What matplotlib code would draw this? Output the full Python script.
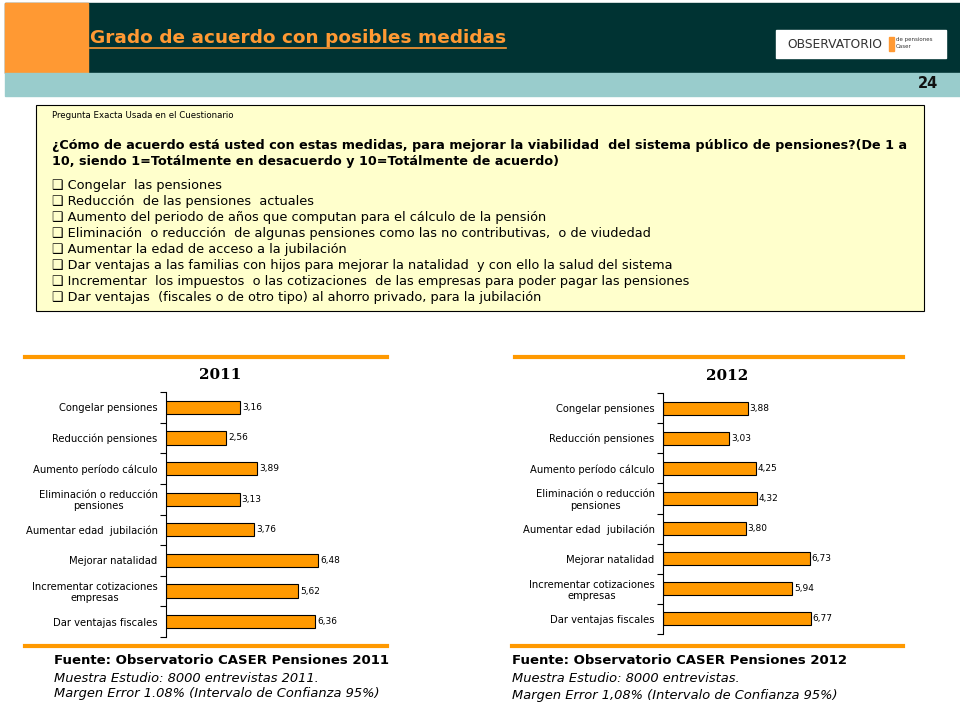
import numpy as np
import matplotlib.pyplot as plt
from matplotlib.patches import Rectangle

categorias = ["Congelar pensiones", "Reducción pensiones", "Aumento período cálculo",
              "Eliminación o reducción\npensiones", "Aumentar edad  jubilación",
              "Mejorar natalidad", "Incrementar cotizaciones\nempresas", "Dar ventajas fiscales"]
valores_2011 = [3.16, 2.56, 3.89, 3.13, 3.76, 6.48, 5.62, 6.36]
valores_2012 = [3.88, 3.03, 4.25, 4.32, 3.80, 6.73, 5.94, 6.77]

medidas = ["Congelar  las pensiones",
           "Reducción  de las pensiones  actuales",
           "Aumento del periodo de años que computan para el cálculo de la pensión",
           "Eliminación  o reducción  de algunas pensiones como las no contributivas,  o de viudedad",
           "Aumentar la edad de acceso a la jubilación",
           "Dar ventajas a las familias con hijos para mejorar la natalidad  y con ello la salud del sistema",
           "Incrementar  los impuestos  o las cotizaciones  de las empresas para poder pagar las pensiones",
           "Dar ventajas  (fiscales o de otro tipo) al ahorro privado, para la jubilación"]

W, H = 960, 720
fig = plt.figure(figsize=(9.6, 7.2), dpi=100)
bg = fig.add_axes([0, 0, 1, 1])
bg.set_xlim(0, W)
bg.set_ylim(H, 0)
bg.axis('off')

naranja = '#FF9900'

# cabecera
bg.add_patch(Rectangle((5, 3), 955, 70, color='#003333'))
bg.add_patch(Rectangle((5, 3), 83, 70, color='#FF9933'))
bg.add_patch(Rectangle((5, 73), 955, 23, color='#99CCCC'))
bg.text(90, 38, "Grado de acuerdo con posibles medidas", color='#FF9933', fontsize=13.3,
        fontweight='bold', va='center', ha='left')
bg.plot([90, 506], [48, 48], color='#FF9933', lw=1.2)
bg.add_patch(Rectangle((776, 30), 170, 28, color='white'))
bg.text(787, 44, "OBSERVATORIO", color='#333333', fontsize=8.8, va='center', ha='left')
bg.add_patch(Rectangle((889, 37), 5, 14, color='#FF9933'))
bg.text(896, 40, "de pensiones", color='#333333', fontsize=4, va='center', ha='left')
bg.text(896, 47, "Caser", color='#333333', fontsize=4, va='center', ha='left')
bg.text(938, 84, "24", color='#111111', fontsize=10.5, fontweight='bold', va='center', ha='right')

# caja de la pregunta
bg.add_patch(Rectangle((36, 105), 888, 206, facecolor='#FFFFCC', edgecolor='black', lw=0.8))
bg.text(52, 115, "Pregunta Exacta Usada en el Cuestionario", fontsize=6.2, va='center')
bg.text(52, 145, "¿Cómo de acuerdo está usted con estas medidas, para mejorar la viabilidad  del sistema público de pensiones?(De 1 a",
        fontsize=9.2, fontweight='bold', va='center')
bg.text(52, 161, "10, siendo 1=Totálmente en desacuerdo y 10=Totálmente de acuerdo)",
        fontsize=9.2, fontweight='bold', va='center')
for i, m in enumerate(medidas):
    bg.text(52, 186 + i * 16, "\u2751 " + m, fontsize=9.3, va='center')

# lineas naranjas
bg.plot([25, 387], [357, 357], color=naranja, lw=3)
bg.plot([25, 387], [646, 646], color=naranja, lw=3)
bg.plot([515, 903], [357, 357], color=naranja, lw=3)
bg.plot([512, 903], [646, 646], color=naranja, lw=3)
bg.text(220, 375, "2011", fontsize=11, fontweight='bold', family='DejaVu Serif', ha='center', va='center')
bg.text(727, 376, "2012", fontsize=11, fontweight='bold', family='DejaVu Serif', ha='center', va='center')

# fuentes
bg.text(54, 660, "Fuente: Observatorio CASER Pensiones 2011", fontsize=9.5, fontweight='bold', va='center')
bg.text(54, 678, "Muestra Estudio: 8000 entrevistas 2011.", fontsize=9.4, style='italic', va='center')
bg.text(54, 694, "Margen Error 1.08% (Intervalo de Confianza 95%)", fontsize=9.4, style='italic', va='center')
bg.text(512, 661, "Fuente: Observatorio CASER Pensiones 2012", fontsize=9.5, fontweight='bold', va='center')
bg.text(512, 679, "Muestra Estudio: 8000 entrevistas.", fontsize=9.4, style='italic', va='center')
bg.text(512, 696, "Margen Error 1,08% (Intervalo de Confianza 95%)", fontsize=9.4, style='italic', va='center')


def grafico(x0, y_top, y_bot, px_unidad, xmax, valores):
    ax = fig.add_axes([x0 / W, (H - y_bot) / H, xmax * px_unidad / W, (y_bot - y_top) / H])
    y = np.arange(len(categorias))
    ax.barh(y, valores, height=0.43, color=naranja, edgecolor='black', linewidth=0.8)
    for yi, v in zip(y, valores):
        ax.text(v + 0.08, yi, f"{v:.2f}".replace('.', ','), fontsize=6.5, va='center', ha='left')
    ax.set_xlim(0, xmax)
    ax.set_ylim(len(categorias) - 0.5, -0.5)
    ax.set_yticks(y)
    ax.set_yticklabels(categorias, fontsize=7.2, linespacing=1.15, multialignment='center')
    ax.set_yticks(np.arange(-0.5, len(categorias)), minor=True)
    ax.tick_params(axis='y', which='major', length=0, pad=6)
    ax.tick_params(axis='y', which='minor', length=4, width=0.8, direction='out')
    ax.set_xticks([])
    for s in ['top', 'right', 'bottom']:
        ax.spines[s].set_visible(False)
    ax.spines['left'].set_linewidth(0.8)
    ax.patch.set_alpha(0)
    return ax


grafico(166, 392, 637, 23.5, 9, valores_2011)
grafico(663, 393, 634, 21.8, 10, valores_2012)

fig.savefig('out.png', dpi=100)
